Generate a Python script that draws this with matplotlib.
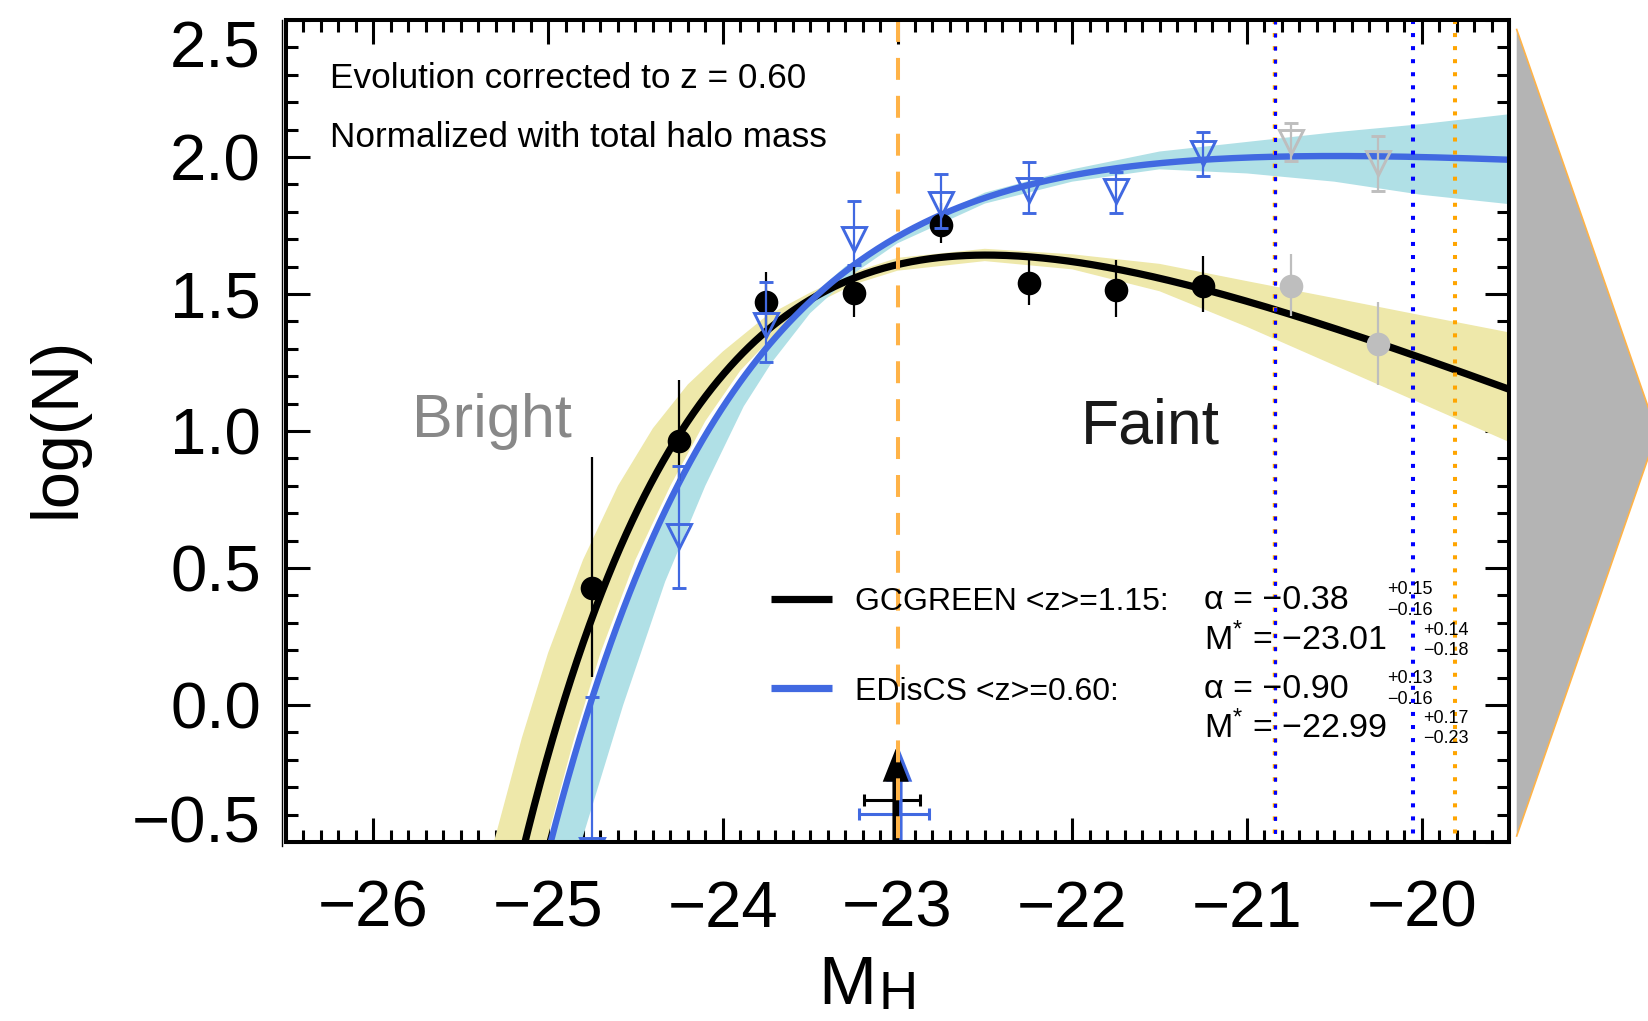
import numpy as np
import matplotlib
matplotlib.use('Agg')
import matplotlib.pyplot as plt
from matplotlib.patches import Polygon, FancyArrow
from matplotlib.lines import Line2D
from matplotlib.ticker import MultipleLocator

plt.rcParams['font.family'] = ['Liberation Sans', 'DejaVu Sans']
plt.rcParams['mathtext.fontset'] = 'custom'
plt.rcParams['mathtext.rm'] = 'Liberation Sans'
plt.rcParams['mathtext.it'] = 'Liberation Sans:italic'
plt.rcParams['lines.scale_dashes'] = False

# binned luminosity functions (bin centres in M_H)
mag_bins = np.array([-24.75, -24.25, -23.75, -23.25, -22.75, -22.25, -21.75, -21.25, -20.75, -20.25])
n_fit = 8  # the two faintest bins are below the completeness limit

gc_logn = np.array([0.426, 0.965, 1.472, 1.502, 1.752, 1.539, 1.515, 1.530, 1.529, 1.318])
gc_err_lo = np.array([0.323, 0.147, 0.110, 0.085, 0.067, 0.080, 0.098, 0.097, 0.109, 0.150])
gc_err_hi = np.array([0.478, 0.222, 0.109, 0.104, 0.079, 0.090, 0.109, 0.109, 0.116, 0.154])

ed_logn = np.array([-0.53, 0.618, 1.387, 1.700, 1.830, 1.880, 1.875, 2.015, 2.054, 1.977])
ed_err_lo = np.array([0.25, 0.192, 0.134, 0.094, 0.090, 0.083, 0.078, 0.083, 0.069, 0.101])
ed_err_hi = np.array([0.56, 0.255, 0.156, 0.139, 0.108, 0.103, 0.071, 0.075, 0.071, 0.101])

# Schechter fits: alpha, M*, log normalisation
gc_alpha, gc_alpha_err = -0.38, (0.15, -0.16)
gc_mstar, gc_mstar_err = -23.01, (0.14, -0.18)
gc_lognorm = 2.04
ed_alpha, ed_alpha_err = -0.90, (0.13, -0.16)
ed_mstar, ed_mstar_err = -22.99, (0.17, -0.23)
ed_lognorm = 2.147

# 1-sigma envelopes of the fits
gc_band_hi_m = [-25.31, -25.15, -25.00, -24.80, -24.60, -24.40, -24.20, -24.00, -23.75, -23.50,
                -23.25, -23.00, -22.50, -22.00, -21.50, -21.00, -20.50, -20.00, -19.50]
gc_band_hi_y = [-0.50, -0.12, 0.19, 0.53, 0.80, 1.01, 1.17, 1.29, 1.42, 1.505,
                1.58, 1.632, 1.665, 1.645, 1.61, 1.547, 1.485, 1.422, 1.36]
gc_band_lo_m = [-25.01, -24.85, -24.70, -24.50, -24.30, -24.10, -23.90, -23.70, -23.50,
                -23.25, -23.00, -22.50, -22.00, -21.50, -21.00, -20.50, -20.00, -19.50]
gc_band_lo_y = [-0.50, -0.12, 0.19, 0.53, 0.80, 1.036, 1.22, 1.355, 1.455,
                1.535, 1.585, 1.62, 1.59, 1.51, 1.38, 1.24, 1.10, 0.96]

ed_band_hi_m = [-25.00, -24.77, -24.52, -24.27, -24.02, -23.78, -23.55, -23.30, -23.00,
                -22.50, -22.00, -21.50, -21.00, -20.50, -20.00, -19.50]
ed_band_hi_y = [-0.50, 0.00, 0.45, 0.80, 1.08, 1.30, 1.46, 1.60, 1.72,
                1.87, 1.955, 2.02, 2.055, 2.09, 2.12, 2.156]
ed_band_lo_m = [-24.81, -24.57, -24.33, -24.10, -23.88, -23.72, -23.50, -23.25, -23.00,
                -22.50, -22.00, -21.50, -21.00, -20.50, -20.00, -19.50]
ed_band_lo_y = [-0.50, 0.00, 0.45, 0.80, 1.09, 1.25, 1.43, 1.575, 1.685,
                1.83, 1.91, 1.955, 1.94, 1.91, 1.862, 1.828]

# completeness limits
lim_both = -20.84
lim_blue = -20.05
lim_orange = -19.81
m_ref = -23.0
arrow_tip = -0.16

BLUE = '#4169E1'
GRAY = '#BEBEBE'
YELLOW = '#EEE8AA'
CYAN = '#B0E0E6'
ORANGE = '#FFB347'


def schechter_log(m, alpha, mstar, lognorm):
    u = 0.4 * (mstar - m)
    return lognorm + (alpha + 1) * u - 10 ** u / np.log(10)


def fmt(v, sign=False):
    s = f'{v:+.2f}' if sign else f'{v:.2f}'
    return s.replace('-', '\u2212')


W, H = 1649, 1021
fig = plt.figure(figsize=(W / 100, H / 100), dpi=100)
ax = fig.add_axes([286 / W, 1 - 842 / H, (1509 - 286) / W, (842 - 20) / H])
ax.set_axisbelow(True)
ax.set_xlim(-26.5, -19.5)
ax.set_ylim(-0.5, 2.5)

# bands
ax.fill(gc_band_hi_m + gc_band_lo_m[::-1], gc_band_hi_y + gc_band_lo_y[::-1],
        color=YELLOW, lw=0, zorder=1)
ax.fill(ed_band_hi_m + ed_band_lo_m[::-1], ed_band_hi_y + ed_band_lo_y[::-1],
        color=CYAN, lw=0, zorder=1.1)

# fitted Schechter functions
mm = np.linspace(-26.5, -19.5, 400)
ax.plot(mm, schechter_log(mm, gc_alpha, gc_mstar, gc_lognorm), color='k', lw=5.2, zorder=2)
ax.plot(mm, schechter_log(mm, ed_alpha, ed_mstar, ed_lognorm), color=BLUE, lw=4.6, zorder=2.1)

# data points
for sl, c_gc, c_ed in ((slice(0, n_fit), 'k', BLUE), (slice(n_fit, None), GRAY, GRAY)):
    ax.errorbar(mag_bins[sl], gc_logn[sl], yerr=[gc_err_lo[sl], gc_err_hi[sl]], fmt='o',
                color=c_gc, ms=17, mew=0, elinewidth=1.6, capsize=5, capthick=1.8, zorder=3)
    ax.errorbar(mag_bins[sl], ed_logn[sl], yerr=[ed_err_lo[sl], ed_err_hi[sl]], fmt='v',
                color=c_ed, mfc='none', mec=c_ed, ms=17, mew=2.1, elinewidth=1.6,
                capsize=5, capthick=1.8, zorder=3.1)

# completeness limits
ax.plot([lim_both, lim_both], [2.5, -0.5], color='#FFA500', lw=3.2, dashes=(2.9, 6.5), zorder=4)
ax.plot([lim_both, lim_both], [2.5, -0.5], color='#0000FF', lw=2.2, dashes=(2.9, 6.5), zorder=4.1)
ax.plot([lim_blue, lim_blue], [2.5, -0.5], color='#0000FF', lw=2.9, dashes=(2.9, 6.5), zorder=4)
ax.plot([lim_orange, lim_orange], [2.5, -0.5], color='#FFA500', lw=2.9, dashes=(2.9, 6.5), zorder=4)

# M* with errors
ax.errorbar([gc_mstar], [-0.347], xerr=[[-gc_mstar_err[1]], [gc_mstar_err[0]]], fmt='none',
            ecolor='k', elinewidth=2.2, capsize=4, capthick=2.2, zorder=4)
ax.errorbar([ed_mstar], [-0.398], xerr=[[-ed_mstar_err[1]], [ed_mstar_err[0]]], fmt='none',
            ecolor=BLUE, elinewidth=2.2, capsize=4, capthick=2.2, zorder=4)
for xm, col, z in ((ed_mstar, BLUE, 4.2), (gc_mstar, 'k', 4.3)):
    ax.add_patch(FancyArrow(xm, -0.5, 0, arrow_tip + 0.5, width=0.038, head_width=0.149,
                            head_length=0.12, length_includes_head=True, color=col, lw=0, zorder=z))

ax.plot([m_ref, m_ref], [2.5, -0.5], color=ORANGE, lw=2.9, dashes=(15.8, 11.5),
        solid_capstyle='butt', dash_capstyle='butt', zorder=5)

# texts
ax.text(-26.25, 2.252, 'Evolution corrected to z = 0.60', fontsize=25.3, va='baseline')
ax.text(-26.25, 2.036, 'Normalized with total halo mass', fontsize=25.3, va='baseline')
ax.text(-25.78, 0.978, 'Bright', fontsize=44, color='#888888', va='baseline')
ax.text(-21.95, 0.955, 'Faint', fontsize=45, color='#1a1a1a', va='baseline')

# legend
ax.plot([-23.726, -23.375], [0.387, 0.387], color='k', lw=5.2, solid_capstyle='butt', zorder=6)
ax.plot([-23.726, -23.375], [0.062, 0.062], color=BLUE, lw=5.2, solid_capstyle='butt', zorder=6)
ax.text(-23.243, 0.348, 'GCGREEN <z>=1.15:', fontsize=23, va='baseline', zorder=6)
ax.text(-23.243, 0.020, 'EDisCS <z>=0.60:', fontsize=23, va='baseline', zorder=6)

rows = ((0.352, 0.202, gc_alpha, gc_alpha_err, gc_mstar, gc_mstar_err),
        (0.027, -0.120, ed_alpha, ed_alpha_err, ed_mstar, ed_mstar_err))
for ya, ym, a, ae, ms_, me in rows:
    ax.text(-21.244, ya, '\u03b1 = ' + fmt(a), fontsize=24.5, va='baseline', zorder=6)
    ax.text(-21.244, ym, r'M$^{*}$ = ' + fmt(ms_), fontsize=24.5, va='baseline', zorder=6)
    ax.text(-20.20, ya + 0.053, fmt(ae[0], True), fontsize=13, va='baseline', zorder=6)
    ax.text(-20.20, ya - 0.024, fmt(ae[1], True), fontsize=13, va='baseline', zorder=6)
    ax.text(-19.994, ym + 0.053, fmt(me[0], True), fontsize=13, va='baseline', zorder=6)
    ax.text(-19.994, ym - 0.020, fmt(me[1], True), fontsize=13, va='baseline', zorder=6)

# axes styling
for sp in ax.spines.values():
    sp.set_linewidth(2.9)
    sp.set_zorder(7)
ax.xaxis.set_major_locator(MultipleLocator(1))
ax.xaxis.set_minor_locator(MultipleLocator(0.1))
ax.set_yticks([-0.5, 0.0, 0.5, 1.0, 1.5, 2.0, 2.5])
ax.yaxis.set_minor_locator(MultipleLocator(0.1))
ax.tick_params(which='both', direction='in', top=True, right=True, width=2.2, labelsize=47)
ax.tick_params(which='major', length=17.3)
ax.tick_params(which='minor', length=8.6)
ax.tick_params(axis='x', pad=27)
ax.tick_params(axis='y', pad=18)
ax.yaxis.set_major_formatter(plt.FuncFormatter(lambda v, p: fmt(v)[:-1]))
ylabels = ax.get_yticklabels()
ylabels[0].set_va('baseline')
ylabels[-1].set_va('top')

fig.text(818 / W, 1 - 1004 / H, 'M', fontsize=50, va='baseline')
fig.text(879 / W, 1 - 1009 / H, 'H', fontsize=39, va='baseline')
fig.text(58 / W, 1 - 427 / H, 'log(N)', fontsize=48, rotation=90, ha='center', va='center')

# doubled left frame line
fig.add_artist(Line2D([282 / W, 282 / W], [1 - 846 / H, 1 - 20 / H], color='k', lw=1.0))

# arrow shape at the right edge
tri = [(1516.7, 29.5), (1657, 432.5), (1516.7, 836)]
tri_f = [(x / W, 1 - y / H) for x, y in tri]
fig.add_artist(Polygon(tri_f, closed=True, facecolor='#B4B4B4', edgecolor='none'))
fig.add_artist(Line2D([p[0] for p in tri_f], [p[1] for p in tri_f], color=ORANGE, lw=1.2))

fig.savefig('out.png', dpi=100)
